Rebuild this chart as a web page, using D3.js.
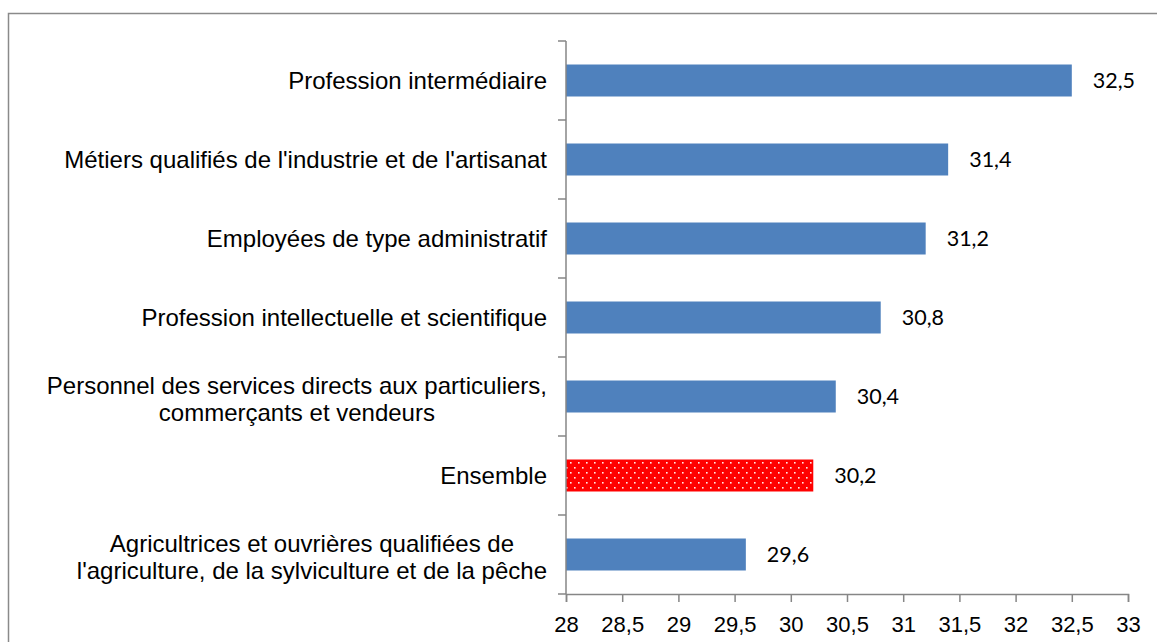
<!DOCTYPE html>
<html lang="fr">
<head>
<meta charset="UTF-8">
<title>Ensemble par profession</title>
<style>
  * { margin: 0; padding: 0; box-sizing: border-box; }
  body { background: #fff; overflow: hidden; }
  svg text { font-family: "Liberation Sans", Arial, sans-serif; fill: #000; }
</style>
</head>
<body>
<div id="chart"></div>
<script src="https://cdn.jsdelivr.net/npm/d3@7"></script>
<script>
  // categories, top to bottom (lines as wrapped in the original)
  const categories = [
    ["Profession intermédiaire"],
    ["Métiers qualifiés de l'industrie et de l'artisanat"],
    ["Employées de type administratif"],
    ["Profession intellectuelle et scientifique"],
    ["Personnel des services directs aux particuliers,", "commerçants et vendeurs"],
    ["Ensemble"],
    ["Agricultrices et ouvrières qualifiées de", "l'agriculture, de la sylviculture et de la pêche"]
  ];
  const values = [32.5, 31.4, 31.2, 30.8, 30.4, 30.2, 29.6];
  const highlight = [false, false, false, false, false, true, false];
  const xTicks = [28, 28.5, 29, 29.5, 30, 30.5, 31, 31.5, 32, 32.5, 33];

  const width = 1157, height = 642;
  const plotLeft = 566, plotRight = 1128, plotTop = 41, plotBottom = 594;
  const fmt = v => String(v).replace(".", ",");

  const svg = d3.select("#chart").append("svg").attr("width", width).attr("height", height);

  // dotted red fill for "Ensemble"
  const pat = svg.append("defs").append("pattern")
    .attr("id", "dots").attr("patternUnits", "userSpaceOnUse")
    .attr("width", 8).attr("height", 10);
  pat.append("rect").attr("width", 8).attr("height", 10).attr("fill", "#ff0000");
  pat.append("rect").attr("x", 2).attr("y", 2).attr("width", 1.6).attr("height", 1.6).attr("fill", "#ffe6e6");
  pat.append("rect").attr("x", 6).attr("y", 7).attr("width", 1.6).attr("height", 1.6).attr("fill", "#ffe6e6");

  // chart area border
  svg.append("rect").attr("x", 8.5).attr("y", 13.5).attr("width", 1160).attr("height", 650)
    .attr("fill", "none").attr("stroke", "#8a8a8a").attr("stroke-width", 1.5);

  const x = d3.scaleLinear().domain([28, 33]).range([plotLeft, plotRight]);
  const y = d3.scaleBand().domain(d3.range(categories.length)).range([plotTop, plotBottom]).paddingInner(0.595).paddingOuter(0.2975);
  const band = d3.scaleBand().domain(d3.range(categories.length)).range([plotTop, plotBottom]);

  // bars
  svg.append("g").selectAll("rect").data(values).join("rect")
    .attr("x", x(28)).attr("y", (d, i) => y(i))
    .attr("width", d => x(d) - x(28)).attr("height", y.bandwidth())
    .attr("fill", (d, i) => highlight[i] ? "url(#dots)" : "#4f81bd");

  // value labels
  svg.append("g").selectAll("text").data(values).join("text")
    .attr("x", d => x(d) + 21).attr("y", (d, i) => y(i) + y.bandwidth() / 2)
    .attr("dy", "0.36em")
    .style("font-family", "Lato, 'Open Sans', sans-serif").style("font-size", "21.5px")
    .text(fmt);

  // y axis: line + ticks at band edges
  const axisColor = "#868686";
  const ya = svg.append("g").attr("stroke", axisColor).attr("stroke-width", 1.5);
  ya.append("line").attr("x1", plotLeft).attr("x2", plotLeft).attr("y1", plotTop).attr("y2", plotBottom);
  ya.selectAll("line.t").data(d3.range(categories.length + 1)).join("line").attr("class", "t")
    .attr("x1", plotLeft - 8).attr("x2", plotLeft)
    .attr("y1", i => i < categories.length ? band(i) : plotBottom)
    .attr("y2", i => i < categories.length ? band(i) : plotBottom);

  // category labels (multi-line centred within a right-aligned block)
  const labels = svg.append("g").style("font-size", "24px");
  categories.forEach((lines, i) => {
    const cy = y(i) + y.bandwidth() / 2;
    const g = labels.append("g");
    const texts = lines.map((s, k) => g.append("text")
      .attr("y", cy + 8.5 + (lines.length > 1 ? 2 : 0) + (k - (lines.length - 1) / 2) * 27)
      .text(s));
    const widths = texts.map(t => t.node().getComputedTextLength());
    const maxW = d3.max(widths);
    const cx = 547 - maxW / 2;
    texts.forEach(t => t.attr("x", cx).attr("text-anchor", "middle"));
  });

  // x axis
  const xa = svg.append("g").attr("transform", `translate(0,${plotBottom})`)
    .call(d3.axisBottom(x).tickValues(xTicks).tickSize(8).tickPadding(14).tickFormat(fmt));
  xa.select(".domain").attr("stroke", axisColor).attr("stroke-width", 1.5);
  xa.selectAll(".tick line").attr("stroke", axisColor).attr("stroke-width", 1.5);
  xa.selectAll(".tick text").style("font-family", "'Liberation Sans', Arial, sans-serif")
    .style("font-size", "22px").attr("fill", "#000");
</script>
</body>
</html>
